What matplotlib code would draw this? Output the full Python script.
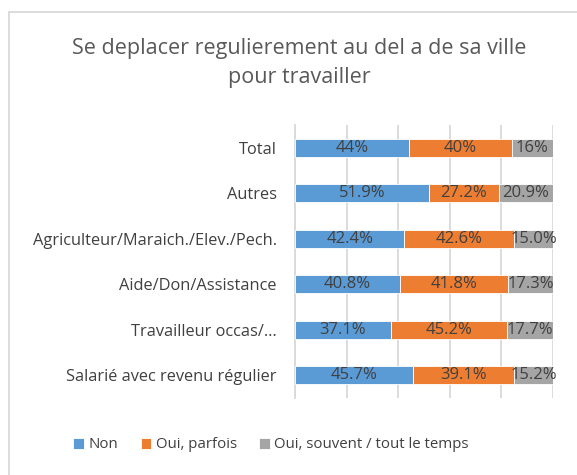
import numpy as np
import matplotlib.pyplot as plt
from matplotlib.patches import Rectangle

plt.rcParams['font.family'] = ['Open Sans', 'DejaVu Sans']

# categories, top to bottom
categories = ["Total", "Autres", "Agriculteur/Maraich./Elev./Pech.",
              "Aide/Don/Assistance", "Travailleur occas/…",
              "Salarié avec revenu régulier"]
non = [44.0, 51.9, 42.4, 40.8, 37.1, 45.7]
parfois = [40.0, 27.2, 42.6, 41.8, 45.2, 39.1]
souvent = [16.0, 20.9, 15.0, 17.3, 17.7, 15.2]
labels_non = ["44%", "51.9%", "42.4%", "40.8%", "37.1%", "45.7%"]
labels_parfois = ["40%", "27.2%", "42.6%", "41.8%", "45.2%", "39.1%"]
labels_souvent = ["16%", "20.9%", "15.0%", "17.3%", "17.7%", "15.2%"]
series_names = ["Non", "Oui, parfois", "Oui, souvent / tout le temps"]
colors = ["#5B9BD5", "#ED7D31", "#A5A5A5"]

W, H = 577, 475
fig = plt.figure(figsize=(W / 100, H / 100), dpi=100)

# chart frame
fig.patches.append(Rectangle((9 / W, -0.05), 1.2, 1 - 12 / H + 0.05,
                             transform=fig.transFigure, fill=False,
                             edgecolor="#D9D9D9", lw=1.3))

ax = fig.add_axes([295 / W, 1 - 398 / H, 258 / W, 273 / H])
y = np.arange(len(categories))[::-1]

left = np.zeros(len(categories))
for vals, labs, name, c in zip([non, parfois, souvent],
                               [labels_non, labels_parfois, labels_souvent],
                               series_names, colors):
    vals = np.array(vals)
    bars = ax.barh(y, vals, left=left, height=0.4, color=c, label=name,
                   edgecolor="white", linewidth=0.6, zorder=3)
    for yi, l, v, t in zip(y, left, vals, labs):
        ax.text(l + v / 2, yi, t, ha="center", va="center",
                fontsize=12, color="#404040", zorder=4)
    left = left + vals

ax.set_xlim(0, 100)
ax.set_ylim(-0.5, len(categories) - 0.5)
ax.set_xticks(np.arange(0, 101, 20))
ax.xaxis.grid(True, color="#D9D9D9", lw=1.3, zorder=0)
ax.tick_params(axis="x", length=0, labelbottom=False)
ax.tick_params(axis="y", length=0, pad=13)
ax.set_yticks(y)
ax.set_yticklabels(categories, fontsize=11.8, color="#404040")
for s in ["top", "right", "bottom"]:
    ax.spines[s].set_visible(False)
ax.spines["left"].set_color("#D9D9D9")
ax.spines["left"].set_linewidth(1.3)

fig.text(299 / W, 1 - 63 / H,
         "Se deplacer regulierement au del a de sa ville\npour travailler",
         ha="center", va="center", fontsize=15.5, color="#595959",
         linespacing=1.45)

fig.legend(loc="center", bbox_to_anchor=(271 / W, 1 - 445 / H), ncol=3,
           frameon=False, fontsize=10.8, handlelength=0.7, handleheight=0.7,
           handletextpad=0.3, columnspacing=1.5, labelcolor="#404040")

fig.savefig("out.png", dpi=100)
